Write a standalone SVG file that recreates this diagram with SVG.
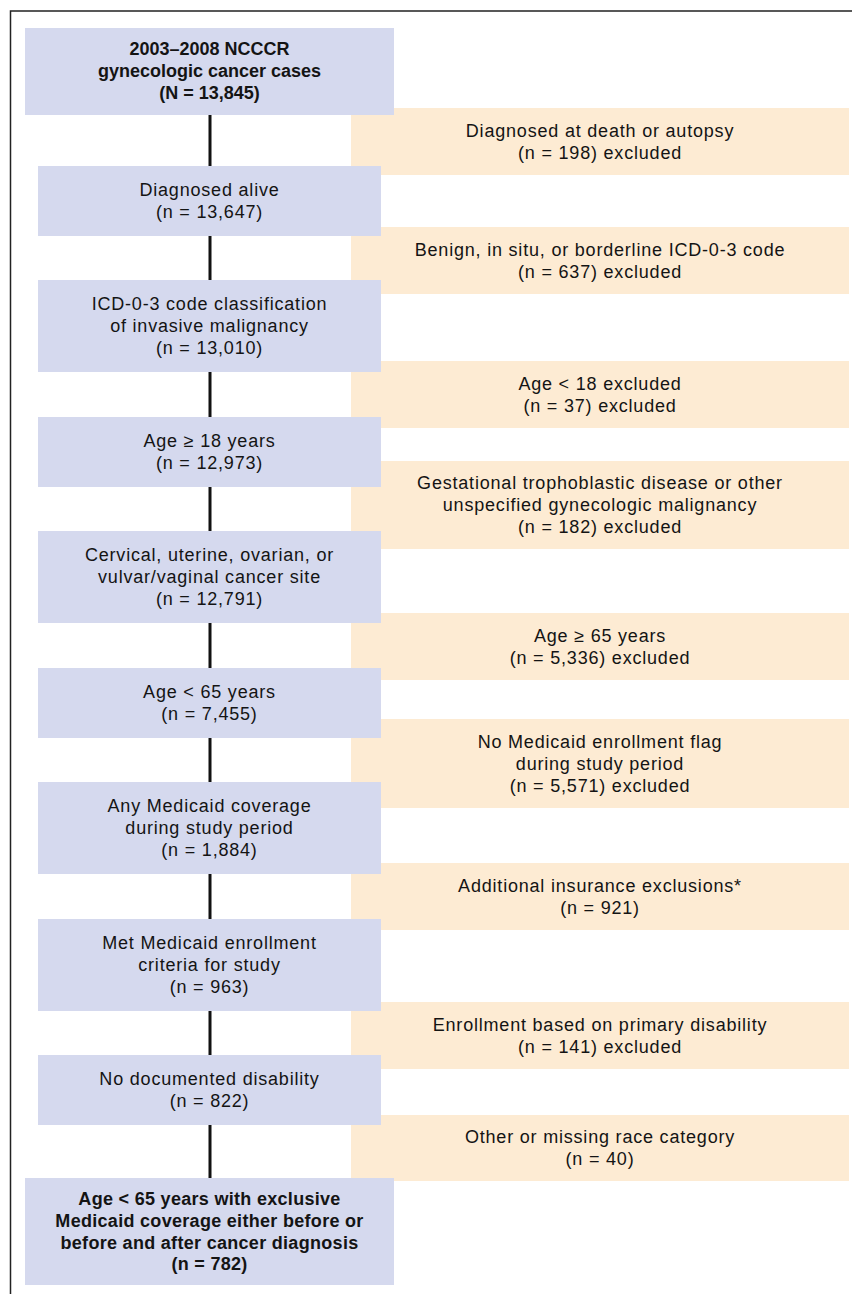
<svg xmlns="http://www.w3.org/2000/svg" width="852" height="1294" viewBox="0 0 852 1294">
<style>
.bl{fill:#d5d9ee}
.or{fill:#fdebd3}
.t{font-family:"Liberation Sans",Arial,sans-serif;font-size:18px;fill:#141414;text-anchor:middle;letter-spacing:0.8px}
.b{font-family:"Liberation Sans",Arial,sans-serif;font-size:18px;font-weight:bold;fill:#141414;text-anchor:middle}
.bw{letter-spacing:0.3px}
.frame{stroke:#222;stroke-width:1.5;fill:none}
.conn{stroke:#111;stroke-width:3;fill:none}
</style>
<rect width="852" height="1294" fill="#fff"/>
<path class="frame" d="M10.5,1294 V11 H852"/>
<g id="connectors">
<line class="conn" x1="210" y1="115" x2="210" y2="1178"/>
</g>
<g id="ex1"><rect class="or" x="351" y="108" width="498" height="67"/>
<text class="t"><tspan x="600" y="136.5">Diagnosed at death or autopsy</tspan><tspan x="600" y="158.5">(n = 198) excluded</tspan></text></g>
<g id="ex2"><rect class="or" x="351" y="227" width="498" height="67"/>
<text class="t"><tspan x="600" y="255.5">Benign, in situ, or borderline ICD-0-3 code</tspan><tspan x="600" y="277.5">(n = 637) excluded</tspan></text></g>
<g id="ex3"><rect class="or" x="351" y="361" width="498" height="67"/>
<text class="t"><tspan x="600" y="389.5">Age &lt; 18 excluded</tspan><tspan x="600" y="411.5">(n = 37) excluded</tspan></text></g>
<g id="ex4"><rect class="or" x="351" y="461" width="498" height="88"/>
<text class="t"><tspan x="600" y="489">Gestational trophoblastic disease or other</tspan><tspan x="600" y="511">unspecified gynecologic malignancy</tspan><tspan x="600" y="533">(n = 182) excluded</tspan></text></g>
<g id="ex5"><rect class="or" x="351" y="613" width="498" height="67"/>
<text class="t"><tspan x="600" y="641.5">Age ≥ 65 years</tspan><tspan x="600" y="663.5">(n = 5,336) excluded</tspan></text></g>
<g id="ex6"><rect class="or" x="351" y="719" width="498" height="89"/>
<text class="t"><tspan x="600" y="747.5">No Medicaid enrollment flag</tspan><tspan x="600" y="769.5">during study period</tspan><tspan x="600" y="791.5">(n = 5,571) excluded</tspan></text></g>
<g id="ex7"><rect class="or" x="351" y="863" width="498" height="67"/>
<text class="t"><tspan x="600" y="891.5">Additional insurance exclusions*</tspan><tspan x="600" y="913.5">(n = 921)</tspan></text></g>
<g id="ex8"><rect class="or" x="351" y="1002" width="498" height="67"/>
<text class="t"><tspan x="600" y="1030.5">Enrollment based on primary disability</tspan><tspan x="600" y="1052.5">(n = 141) excluded</tspan></text></g>
<g id="ex9"><rect class="or" x="351" y="1115" width="498" height="66"/>
<text class="t"><tspan x="600" y="1143">Other or missing race category</tspan><tspan x="600" y="1165">(n = 40)</tspan></text></g>

<g id="n1"><rect class="bl" x="25" y="28" width="369" height="87"/>
<text class="b"><tspan x="209.5" y="55">2003–2008 NCCCR</tspan><tspan x="209.5" y="77">gynecologic cancer cases</tspan><tspan x="209.5" y="98.5">(N = 13,845)</tspan></text></g>
<g id="n2"><rect class="bl" x="38" y="166" width="343" height="70"/>
<text class="t"><tspan x="209.5" y="196">Diagnosed alive</tspan><tspan x="209.5" y="218">(n = 13,647)</tspan></text></g>
<g id="n3"><rect class="bl" x="38" y="280" width="343" height="92"/>
<text class="t"><tspan x="209.5" y="310">ICD-0-3 code classification</tspan><tspan x="209.5" y="332">of invasive malignancy</tspan><tspan x="209.5" y="354">(n = 13,010)</tspan></text></g>
<g id="n4"><rect class="bl" x="38" y="417" width="343" height="70"/>
<text class="t"><tspan x="209.5" y="447">Age ≥ 18 years</tspan><tspan x="209.5" y="469">(n = 12,973)</tspan></text></g>
<g id="n5"><rect class="bl" x="38" y="531" width="343" height="92"/>
<text class="t"><tspan x="209.5" y="561">Cervical, uterine, ovarian, or</tspan><tspan x="209.5" y="583">vulvar/vaginal cancer site</tspan><tspan x="209.5" y="605">(n = 12,791)</tspan></text></g>
<g id="n6"><rect class="bl" x="38" y="668" width="343" height="70"/>
<text class="t"><tspan x="209.5" y="698">Age &lt; 65 years</tspan><tspan x="209.5" y="720">(n = 7,455)</tspan></text></g>
<g id="n7"><rect class="bl" x="38" y="782" width="343" height="92"/>
<text class="t"><tspan x="209.5" y="812">Any Medicaid coverage</tspan><tspan x="209.5" y="834">during study period</tspan><tspan x="209.5" y="856">(n = 1,884)</tspan></text></g>
<g id="n8"><rect class="bl" x="38" y="919" width="343" height="92"/>
<text class="t"><tspan x="209.5" y="949">Met Medicaid enrollment</tspan><tspan x="209.5" y="971">criteria for study</tspan><tspan x="209.5" y="993">(n = 963)</tspan></text></g>
<g id="n9"><rect class="bl" x="38" y="1055" width="343" height="70"/>
<text class="t"><tspan x="209.5" y="1085">No documented disability</tspan><tspan x="209.5" y="1107">(n = 822)</tspan></text></g>
<g id="n10"><rect class="bl" x="25" y="1178" width="369" height="107"/>
<text class="b bw"><tspan x="209.5" y="1205">Age &lt; 65 years with exclusive</tspan><tspan x="209.5" y="1227">Medicaid coverage either before or</tspan><tspan x="209.5" y="1249">before and after cancer diagnosis</tspan><tspan x="209.5" y="1270">(n = 782)</tspan></text></g>
</svg>
